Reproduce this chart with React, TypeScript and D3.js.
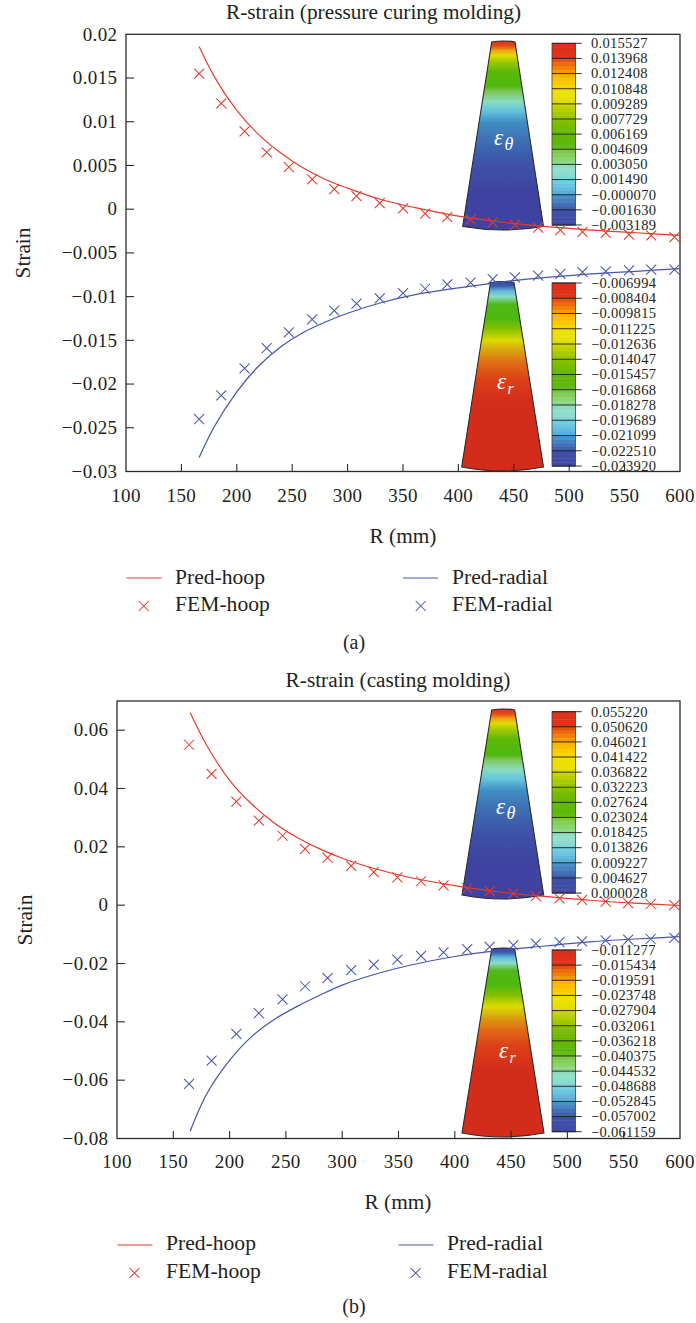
import React from "react";
import * as d3 from "d3";

const RED = "#e5392b";
const BLUE = "#4a55ae";
const INK = "#231f20";
const FONT = "'Liberation Serif', serif";

// ---- data ----
const femRadiusA = [166, 186, 207, 227, 247, 268, 288, 308, 329, 350, 370, 390, 411, 431, 451, 472, 492, 512, 533, 554, 574, 595];
const femRadiusB = [164, 184, 206, 226, 247, 267, 287, 308, 328, 349, 370, 390, 411, 431, 452, 472, 493, 513, 534, 554, 574, 595];
const femHoopA = [0.0155, 0.0121, 0.0089, 0.0065, 0.0048, 0.0034, 0.0023, 0.0015, 0.0007, 0.0001, -0.0005, -0.0009, -0.0012, -0.0015, -0.0018, -0.0021, -0.0024, -0.0026, -0.0027, -0.0029, -0.003, -0.0032];
const femRadialA = [-0.024, -0.0213, -0.0182, -0.0159, -0.0141, -0.0126, -0.0116, -0.0108, -0.0102, -0.0096, -0.0091, -0.0086, -0.0084, -0.008, -0.0078, -0.0076, -0.0074, -0.0072, -0.0071, -0.007, -0.0069, -0.0069];
const femHoopB = [0.055, 0.045, 0.0355, 0.029, 0.0238, 0.0193, 0.0163, 0.0135, 0.0113, 0.0095, 0.0082, 0.0068, 0.0058, 0.0048, 0.004, 0.0031, 0.0023, 0.0018, 0.0012, 0.0007, 0.0004, 0.0];
const femRadialB = [-0.0613, -0.0533, -0.0441, -0.037, -0.0323, -0.0278, -0.025, -0.0223, -0.0204, -0.0187, -0.0174, -0.0162, -0.0151, -0.0143, -0.0137, -0.0132, -0.0127, -0.0124, -0.0121, -0.0118, -0.0116, -0.0112];

const predRadiusA = [166, 180, 200, 220, 240, 260, 280, 300, 330, 360, 400, 440, 480, 520, 560, 600];
const predRadiusB = [165, 180, 200, 220, 240, 260, 280, 300, 330, 360, 400, 440, 480, 520, 560, 600];
const predHoopA = [0.0186, 0.0151, 0.0113, 0.0085, 0.0064, 0.0047, 0.0034, 0.0024, 0.0011, 0.0002, -0.0008, -0.0015, -0.002, -0.0024, -0.0027, -0.003];
const predRadialA = [-0.0284, -0.0248, -0.0209, -0.0179, -0.0157, -0.0141, -0.0129, -0.0119, -0.0107, -0.0098, -0.009, -0.0083, -0.0078, -0.0074, -0.0071, -0.0068];
const predHoopB = [0.066, 0.0546, 0.0428, 0.0345, 0.0281, 0.0232, 0.0193, 0.0161, 0.0124, 0.0095, 0.0067, 0.0045, 0.003, 0.0017, 0.0007, -0.0001];
const predRadialB = [-0.0775, -0.0645, -0.0532, -0.0449, -0.0391, -0.0347, -0.0309, -0.0274, -0.0236, -0.0206, -0.0176, -0.0155, -0.014, -0.0126, -0.0116, -0.0108];

const xTicks = [100, 150, 200, 250, 300, 350, 400, 450, 500, 550, 600];
const yTicksA = [0.02, 0.015, 0.01, 0.005, 0, -0.005, -0.01, -0.015, -0.02, -0.025, -0.03];
const yTickLabelsA = ["0.02", "0.015", "0.01", "0.005", "0", "−0.005", "−0.01", "−0.015", "−0.02", "−0.025", "−0.03"];
const yTicksB = [0.06, 0.04, 0.02, 0, -0.02, -0.04, -0.06, -0.08];
const yTickLabelsB = ["0.06", "0.04", "0.02", "0", "−0.02", "−0.04", "−0.06", "−0.08"];

const barHoopA = ["0.015527", "0.013968", "0.012408", "0.010848", "0.009289", "0.007729", "0.006169", "0.004609", "0.003050", "0.001490", "−0.000070", "−0.001630", "−0.003189"];
const barRadialA = ["−0.006994", "−0.008404", "−0.009815", "−0.011225", "−0.012636", "−0.014047", "−0.015457", "−0.016868", "−0.018278", "−0.019689", "−0.021099", "−0.022510", "−0.023920"];
const barHoopB = ["0.055220", "0.050620", "0.046021", "0.041422", "0.036822", "0.032223", "0.027624", "0.023024", "0.018425", "0.013826", "0.009227", "0.004627", "0.000028"];
const barRadialB = ["−0.011277", "−0.015434", "−0.019591", "−0.023748", "−0.027904", "−0.032061", "−0.036218", "−0.040375", "−0.044532", "−0.048688", "−0.052845", "−0.057002", "−0.061159"];

const barPalette = [
  "#dd2f1c", "#dd2f1c", "#e0331a", "#e0331a",
  "#e8500f", "#ee6a0a", "#f1800a", "#f59a05",
  "#fbb300", "#fdbd00", "#fcc800", "#f8d400",
  "#f2df00", "#ece000", "#e8e000", "#dedc00",
  "#c8d400", "#b8cf00", "#a8ca00", "#9cc600",
  "#84bf00", "#7cbc00", "#72ba00", "#6ab800",
  "#64b804", "#60b808", "#5eb80c", "#62ba14",
  "#7cc84a", "#84ce5c", "#8ad46c", "#8cd888",
  "#90dcc0", "#92e0cc", "#8cdcd0", "#84d8d4",
  "#74cce0", "#6cc4e0", "#62bade", "#58b0d8",
  "#4a90c8", "#4880c0", "#4470b8", "#4060b0",
  "#3f50aa", "#3f4ca8", "#3f4ca8", "#3f4aa6",
];

const hoopStops: [number, string][] = [
  [0, "#d9301c"], [0.025, "#e4481a"], [0.05, "#f0a010"], [0.075, "#e4dc00"], [0.11, "#a0c800"],
  [0.16, "#5cb808"], [0.24, "#50b810"], [0.27, "#80c860"], [0.32, "#88dcc0"], [0.37, "#64c4dc"],
  [0.43, "#3f8ec4"], [0.52, "#3f70b4"], [0.66, "#3d50a8"], [0.82, "#3f42a0"], [1, "#3f42a0"],
];
const radialStops: [number, string][] = [
  [0, "#34409c"], [0.025, "#3f60b0"], [0.05, "#60b8dc"], [0.08, "#8adcc8"], [0.12, "#50b818"],
  [0.2, "#50b810"], [0.25, "#86c000"], [0.31, "#dcdc00"], [0.36, "#d8a810"], [0.43, "#e06c14"],
  [0.52, "#dc4018"], [0.64, "#d42c1a"], [1, "#d42c1a"],
];

// ---- layout ----
type Inset = { id: string; stops: [number, string][]; top: number; cornerY: number; bottomY: number; topL: number; topR: number; botL: number; botR: number; barTop: number; barBottom: number; labels: string[]; eps: [number, number]; sub: string };
type Panel = {
  left: number; right: number; top: number; bottom: number; yDomain: [number, number];
  yTicks: number[]; yLabels: string[]; title: string; titleX: number; titleY: number;
  xLabelX: number; xLabelY: number; strainX: number; strainY: number; tickY: number;
  legend: { l1: number; t1: number; m1: number; l2: number; t2: number; m2: number; lineY: number; b1: number; b2: number; mY: number };
  caption: string; capX: number; capY: number;
  femR: number[]; predR: number[]; femHoop: number[]; femRadial: number[]; predHoop: number[]; predRadial: number[];
  insets: Inset[];
};

const panels: Panel[] = [
  {
    left: 126, right: 680, top: 34.3, bottom: 471.5, yDomain: [0.02, -0.03], yTicks: yTicksA, yLabels: yTickLabelsA,
    title: "R-strain (pressure curing molding)", titleX: 373.5, titleY: 19,
    xLabelX: 403, xLabelY: 543, strainX: 30, strainY: 253, tickY: 501.5,
    legend: { l1: 126.5, t1: 175, m1: 143.7, l2: 403, t2: 452, m2: 420.7, lineY: 578, b1: 584, b2: 611, mY: 606 },
    caption: "(a)", capX: 354, capY: 649,
    femR: femRadiusA, predR: predRadiusA, femHoop: femHoopA, femRadial: femRadialA, predHoop: predHoopA, predRadial: predRadialA,
    insets: [
      { id: "ah", stops: hoopStops, top: 41, cornerY: 226.5, bottomY: 230, topL: 491.7, topR: 515, botL: 462.7, botR: 543.5, barTop: 43.3, barBottom: 225, labels: barHoopA, eps: [494, 145], sub: "θ" },
      { id: "ar", stops: radialStops, top: 281.5, cornerY: 467, bottomY: 471, topL: 490.5, topR: 514, botL: 461.7, botR: 543.5, barTop: 283, barBottom: 466, labels: barRadialA, eps: [497, 389], sub: "r" },
    ],
  },
  {
    left: 117, right: 680, top: 701, bottom: 1138.5, yDomain: [0.07, -0.08], yTicks: yTicksB, yLabels: yTickLabelsB,
    title: "R-strain (casting molding)", titleX: 398, titleY: 687,
    xLabelX: 398, xLabelY: 1209, strainX: 32, strainY: 920, tickY: 1167.5,
    legend: { l1: 117.5, t1: 166, m1: 134.5, l2: 398.5, t2: 447, m2: 415.7, lineY: 1245, b1: 1250, b2: 1278, mY: 1273 },
    caption: "(b)", capX: 354, capY: 1313,
    femR: femRadiusB, predR: predRadiusB, femHoop: femHoopB, femRadial: femRadialB, predHoop: predHoopB, predRadial: predRadialB,
    insets: [
      { id: "bh", stops: hoopStops, top: 709, cornerY: 895, bottomY: 899, topL: 491.7, topR: 514.7, botL: 462, botR: 543.7, barTop: 711.7, barBottom: 893, labels: barHoopB, eps: [496, 814], sub: "θ" },
      { id: "br", stops: radialStops, top: 948, cornerY: 1133, bottomY: 1137, topL: 491.7, topR: 514.7, botL: 462, botR: 544, barTop: 950, barBottom: 1131.7, labels: barRadialB, eps: [499, 1058], sub: "r" },
    ],
  },
];

const BAR_L = 552;
const BAR_R = 575.5;
const BAR_TICK_R = 581.7;
const BAR_TEXT = 591;

function Cross({ x, y, color, r = 5 }: { x: number; y: number; color: string; r?: number }) {
  return <path d={`M${x - r},${y - r}L${x + r},${y + r}M${x - r},${y + r}L${x + r},${y - r}`} stroke={color} strokeWidth={1.05} fill="none" />;
}

function InsetView({ inset }: { inset: Inset }) {
  const { id, stops, top, cornerY, bottomY, topL, topR, botL, botR, barTop, barBottom, labels, eps, sub } = inset;
  const midTop = (topL + topR) / 2;
  const midBot = (botL + botR) / 2;
  const bandScale = d3.scaleBand<number>().domain(d3.range(barPalette.length)).range([barTop, barBottom]);
  const tickScale = d3.scaleLinear().domain([0, labels.length - 1]).range([barTop, barBottom]);
  const shape = `M${topL},${top + 1}Q${midTop},${top - 1} ${topR},${top + 1}L${botR},${cornerY}Q${midBot},${2 * bottomY - cornerY} ${botL},${cornerY}Z`;
  return (
    <g>
      <defs>
        <linearGradient id={`grad-${id}`} x1="0" x2="0" y1="0" y2="1">
          {stops.map(([o, c], i) => <stop key={i} offset={o} stopColor={c} />)}
        </linearGradient>
      </defs>
      <path d={shape} fill={`url(#grad-${id})`} stroke="#2a2a2a" strokeWidth={1.1} />
      {barPalette.map((c, i) => (
        <rect key={i} x={BAR_L} width={BAR_R - BAR_L} y={bandScale(i)!} height={bandScale.bandwidth() + 0.4} fill={c} />
      ))}
      <rect x={BAR_L} y={barTop} width={BAR_R - BAR_L} height={barBottom - barTop} fill="none" stroke="#444" strokeWidth={0.8} />
      {labels.map((t, i) => (
        <g key={t}>
          <line x1={BAR_L} x2={BAR_TICK_R} y1={tickScale(i)} y2={tickScale(i)} stroke="#1c1c1c" strokeWidth={0.9} />
          <text x={BAR_TEXT} y={tickScale(i) + 4.8} fontSize={14.5} letterSpacing={0.3} fill={INK}>{t}</text>
        </g>
      ))}
      <text x={eps[0]} y={eps[1]} fill="#fff" fontStyle="italic" fontSize={23}>ε</text>
      <text x={eps[0] + 10.5} y={eps[1] + 5} fill="#fff" fontStyle="italic" fontSize={sub === "r" ? 16 : 18}>{sub}</text>
    </g>
  );
}

function PanelView({ p }: { p: Panel }) {
  const x = d3.scaleLinear().domain([100, 600]).range([p.left, p.right]);
  const y = d3.scaleLinear().domain(p.yDomain).range([p.top, p.bottom]);
  const line = d3.line<[number, number]>().x((d) => x(d[0])).y((d) => y(d[1])).curve(d3.curveCatmullRom.alpha(0.5));
  const pred = (v: number[]) => line(p.predR.map((r, i) => [r, v[i]] as [number, number])) as string;
  const lg = p.legend;
  return (
    <g>
      <text x={p.titleX} y={p.titleY} textAnchor="middle" fontSize={21.3} fill={INK}>{p.title}</text>
      {p.insets.map((i) => <InsetView key={i.id} inset={i} />)}
      <rect x={p.left} y={p.top} width={p.right - p.left} height={p.bottom - p.top} fill="none" stroke="#2b2b2b" strokeWidth={1.3} />
      {xTicks.map((t) => (
        <g key={t}>
          {t > 100 && t < 600 && <line x1={x(t)} x2={x(t)} y1={p.bottom} y2={p.bottom - 7.5} stroke="#2b2b2b" strokeWidth={1.1} />}
          <text x={x(t)} y={p.tickY} textAnchor="middle" fontSize={19} letterSpacing={0.4} fill={INK}>{t}</text>
        </g>
      ))}
      {p.yTicks.map((t, i) => (
        <g key={t}>
          {y(t) > p.top + 1 && y(t) < p.bottom - 1 && <line x1={p.left} x2={p.left + 8} y1={y(t)} y2={y(t)} stroke="#2b2b2b" strokeWidth={1.1} />}
          <text x={p.left - 8.5} y={y(t) + 6.3} textAnchor="end" fontSize={19} letterSpacing={0.4} fill={INK}>{p.yLabels[i]}</text>
        </g>
      ))}
      <path d={pred(p.predHoop)} fill="none" stroke={RED} strokeWidth={1.15} />
      <path d={pred(p.predRadial)} fill="none" stroke={BLUE} strokeWidth={1.25} />
      {p.femR.map((r, i) => <Cross key={`h${i}`} x={x(r)} y={y(p.femHoop[i])} color={RED} />)}
      {p.femR.map((r, i) => <Cross key={`r${i}`} x={x(r)} y={y(p.femRadial[i])} color={BLUE} />)}
      <text x={p.xLabelX} y={p.xLabelY} textAnchor="middle" fontSize={21.3} fill={INK}>R (mm)</text>
      <text transform={`translate(${p.strainX},${p.strainY}) rotate(-90)`} textAnchor="middle" fontSize={21.3} fill={INK}>Strain</text>
      <line x1={lg.l1} x2={lg.l1 + 35} y1={lg.lineY} y2={lg.lineY} stroke={RED} strokeWidth={1.1} />
      <text x={lg.t1} y={lg.b1} fontSize={21.6} fill={INK}>Pred-hoop</text>
      <Cross x={lg.m1} y={lg.mY} color={RED} />
      <text x={lg.t1} y={lg.b2} fontSize={21.6} fill={INK}>FEM-hoop</text>
      <line x1={lg.l2} x2={lg.l2 + 35} y1={lg.lineY} y2={lg.lineY} stroke={BLUE} strokeWidth={1.1} />
      <text x={lg.t2} y={lg.b1} fontSize={21.6} fill={INK}>Pred-radial</text>
      <Cross x={lg.m2} y={lg.mY} color={BLUE} />
      <text x={lg.t2} y={lg.b2} fontSize={21.6} fill={INK}>FEM-radial</text>
      <text x={p.capX} y={p.capY} textAnchor="middle" fontSize={20} fill={INK}>{p.caption}</text>
    </g>
  );
}

export default function App() {
  return (
    <svg width={696} height={1323} viewBox="0 0 696 1323" style={{ position: "absolute", left: 0, top: 0, background: "#fff" }} fontFamily={FONT}>
      {panels.map((p) => <PanelView key={p.caption} p={p} />)}
    </svg>
  );
}
